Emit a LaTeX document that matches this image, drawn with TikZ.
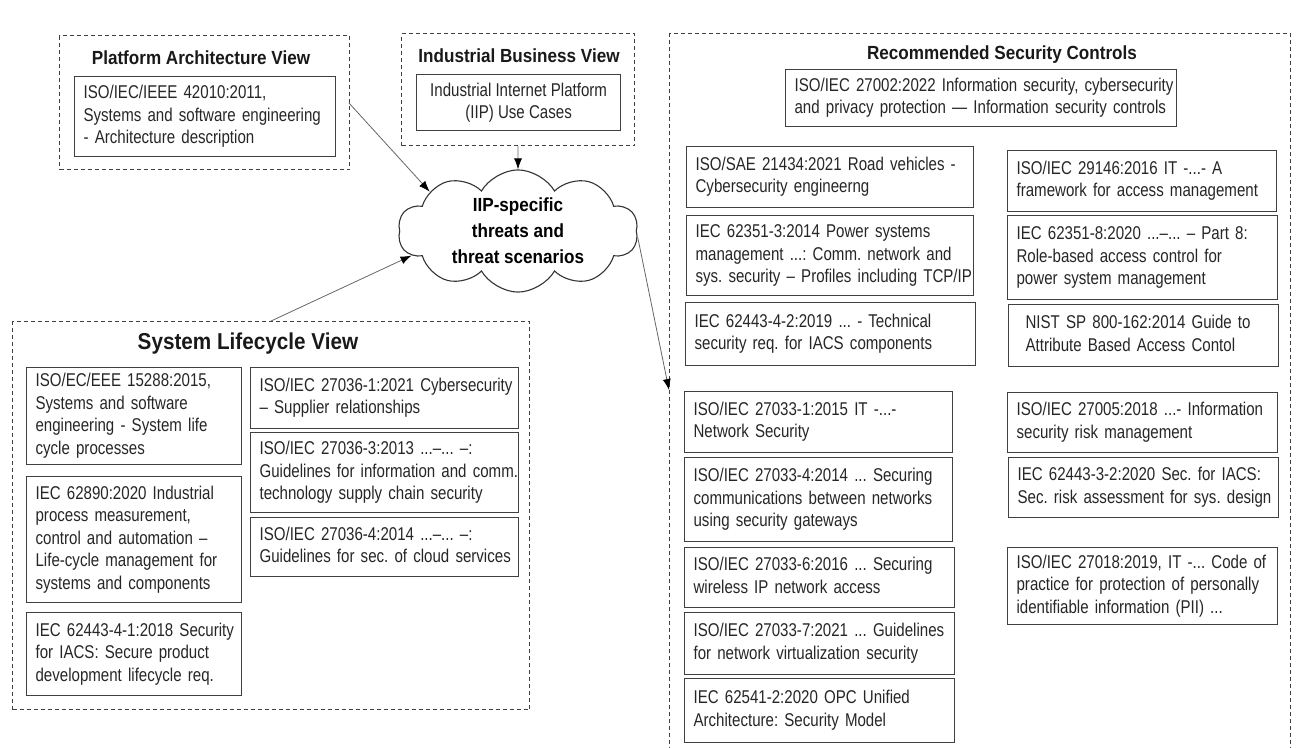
\documentclass[tikz,border=0pt]{standalone}
\usepackage{fontspec}
\setmainfont{Liberation Sans}[FakeStretch=0.815]
\newfontfamily\tfont{Liberation Sans}[FakeStretch=0.9]
\usetikzlibrary{shapes.symbols,arrows.meta}
\frenchspacing
\newcommand\bx[6]{%
  \pgfmathsetmacro\bxw{#4-#2}\pgfmathsetmacro\bxh{#5-#3}\pgfmathsetmacro\bxt{#4-#2-18}%
  \node[bx,minimum width=\bxw pt,minimum height=\bxh pt,text width=\bxt pt,anchor=north west] (#1) at (#2,#3)
    {\begin{tabular}{@{}l@{}}#6\end{tabular}};}
\newcommand\dbx[5]{%
  \pgfmathsetmacro\bxw{#4-#2}\pgfmathsetmacro\bxh{#5-#3}%
  \node[dbox,minimum width=\bxw pt,minimum height=\bxh pt,anchor=north west] (#1) at (#2,#3) {};}
\begin{document}
\frenchspacing
\begin{tikzpicture}[x=1pt,y=-1pt,
  bx/.style={draw=black!75,line width=1.2pt,rectangle,inner xsep=9pt,inner ysep=0pt,align=left,
    font=\frenchspacing\fontsize{18.5}{22.5}\selectfont,text=black!85},
  dbox/.style={draw=black!75,line width=1.1pt,dash pattern=on 4pt off 3pt,rectangle,inner sep=0pt},
  ttl/.style={font=\tfont\bfseries\fontsize{19}{22}\selectfont,text=black!90,inner sep=0pt},
  arr/.style={draw=black!60,line width=0.8pt,-{Latex[length=11pt,width=8pt,color=black]}},
]
\useasboundingbox (0,0) rectangle (1298,747);
\clip (0,0) rectangle (1298,747);

% Platform Architecture View
\dbx{pav}{59}{35}{349}{169}
\node[ttl] (pavt) at (201,58) {Platform Architecture View};
\bx{b42010}{74}{76}{335}{156}{ISO/IEC/IEEE 42010:2011,\\Systems and software engineering\\- Architecture description}

% Industrial Business View
\dbx{ibv}{401}{33}{634}{145}
\node[ttl] (ibvt) at (519,56) {Industrial Business View};
\node[bx,minimum width=204pt,minimum height=56pt,anchor=north west,align=center] (iip) at (416,74)
  {Industrial Internet Platform\\(IIP) Use Cases};

% Cloud
\node[cloud,draw=black!80,line width=1.1pt,cloud puffs=10,cloud puff arc=120,aspect=2.0,
  minimum width=240pt,minimum height=118pt,inner sep=0pt,align=center,
  font=\tfont\bfseries\fontsize{19}{26}\selectfont] (cloud) at (518,231)
  {IIP-specific\\threats and\\threat scenarios};

% System Lifecycle View
\dbx{slv}{12}{321}{529}{709}
\node[ttl,font=\tfont\bfseries\fontsize{23}{26}\selectfont] (slvt) at (248,344) {System Lifecycle View};
\bx{s15288}{26}{367}{241}{464}{ISO/EC/EEE 15288:2015,\\Systems and software\\engineering - System life\\cycle processes}
\bx{s62890}{26}{476}{241}{602}{IEC 62890:2020 Industrial\\process measurement,\\control and automation –\\Life-cycle management for\\systems and components}
\bx{s62443}{26}{612}{241}{695}{IEC 62443-4-1:2018 Security\\for IACS: Secure product\\development lifecycle req.}
\bx{s27036a}{250}{367}{518}{428}{ISO/IEC 27036-1:2021 Cybersecurity\\– Supplier relationships}
\bx{s27036c}{250}{432}{518}{512}{ISO/IEC 27036-3:2013 ...–... –:\\Guidelines for information and comm.\\technology supply chain security}
\bx{s27036d}{250}{517}{518}{576}{ISO/IEC 27036-4:2014 ...–... –:\\Guidelines for sec. of cloud services}

% Recommended Security Controls
\dbx{rsc}{669}{33}{1290}{780}
\node[ttl] (rsct) at (1002,55) {Recommended Security Controls};
\bx{r27002}{785}{69}{1176}{126}{ISO/IEC 27002:2022 Information security, cybersecurity\\and privacy protection — Information security controls}
\bx{r21434}{686}{146}{973}{207}{ISO/SAE 21434:2021 Road vehicles -\\Cybersecurity engineerng}
\bx{r62351a}{686}{215}{973}{295}{IEC 62351-3:2014 Power systems\\management ...: Comm. network and\\sys. security – Profiles including TCP/IP}
\bx{r62443a}{685}{302}{975}{365}{IEC 62443-4-2:2019 ... - Technical\\security req. for IACS components}
\bx{r29146}{1007}{150}{1276}{211}{ISO/IEC 29146:2016 IT -...- A\\framework for access management}
\bx{r62351b}{1007}{215}{1277}{299}{IEC 62351-8:2020 ...–... – Part 8:\\Role-based access control for\\power system management}
\bx{rnist}{1008}{304}{1278}{366}{\hspace{8pt}NIST SP 800-162:2014 Guide to\\\hspace{8pt}Attribute Based Access Contol}
\bx{r27033a}{684}{391}{952}{452}{ISO/IEC 27033-1:2015 IT -...-\\Network Security}
\bx{r27033b}{684}{457}{952}{541}{ISO/IEC 27033-4:2014 ... Securing\\communications between networks\\using security gateways}
\bx{r27033c}{684}{547}{954}{607}{ISO/IEC 27033-6:2016 ... Securing\\wireless IP network access}
\bx{r27033d}{684}{612}{954}{674}{ISO/IEC 27033-7:2021 ... Guidelines\\for network virtualization security}
\bx{r62541}{684}{678}{954}{742}{IEC 62541-2:2020 OPC Unified\\Architecture: Security Model}
\bx{r27005}{1007}{392}{1277}{452}{ISO/IEC 27005:2018 ...- Information\\security risk management}
\bx{r62443b}{1008}{457}{1278}{517}{IEC 62443-3-2:2020 Sec. for IACS:\\Sec. risk assessment for sys. design}
\bx{r27018}{1007}{547}{1277}{624}{ISO/IEC 27018:2019, IT -... Code of\\practice for protection of personally\\identifiable information (PII) ...}

% connectors
\coordinate (pavout) at (349,103);
\coordinate (rscin) at (669,390);
\draw[arr] (pavout) -- (cloud.156);
\draw[arr] (ibv.south) -- (cloud.north);
\draw[arr] (slv.north) -- (cloud.193);
\draw[arr] (cloud.-3) -- (rscin);
\end{tikzpicture}
\end{document}
